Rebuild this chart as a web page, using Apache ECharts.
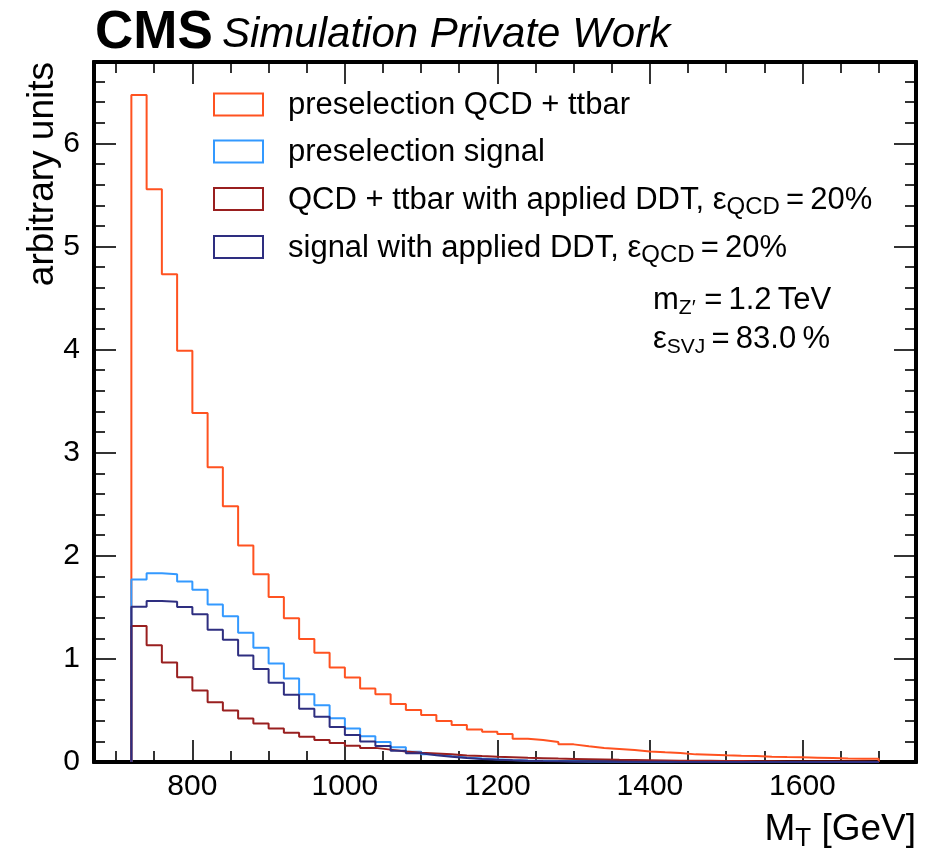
<!DOCTYPE html>
<html>
<head>
<meta charset="utf-8">
<script src="https://cdn.jsdelivr.net/npm/echarts@6/dist/echarts.min.js"></script>
<style>
html, body { margin: 0; padding: 0; background: #fff; }
#chart { width: 928px; height: 853px; }
</style>
</head>
<body>
<div id="chart"></div>
<script>
// Histogram binning in M_T [GeV]
const binEdges = [720, 740, 760, 780, 800, 820, 840, 860, 880, 900, 920, 940, 960, 980,
  1000, 1020, 1040, 1060, 1080, 1100, 1120, 1140, 1160, 1180, 1200, 1220, 1240, 1260,
  1280, 1300, 1320, 1340, 1360, 1380, 1400, 1420, 1440, 1460, 1480, 1500, 1520, 1540,
  1560, 1580, 1600, 1620, 1640, 1660, 1680, 1700];

// preselection QCD + ttbar
const preselBkg = [6.47, 5.555, 4.73, 3.99, 3.385, 2.86, 2.48, 2.10, 1.82, 1.60, 1.395, 1.192,
  1.06, 0.916, 0.82, 0.713, 0.658, 0.563, 0.505, 0.455, 0.397, 0.358, 0.316, 0.294, 0.271,
  0.226, 0.213, 0.194, 0.171, 0.152, 0.136, 0.126, 0.116, 0.103, 0.094, 0.087, 0.074, 0.071,
  0.065, 0.061, 0.058, 0.052, 0.048, 0.045, 0.042, 0.039, 0.035, 0.032, 0.032];

// preselection signal
const preselSig = [1.77, 1.83, 1.82, 1.75, 1.671, 1.527, 1.413, 1.254, 1.108, 0.955, 0.81, 0.658,
  0.55, 0.425, 0.325, 0.25, 0.195, 0.142, 0.10, 0.076, 0.058, 0.044, 0.034, 0.026, 0.02,
  0.015, 0.012, 0.009, 0.007, 0.005, 0.004, 0.003, 0.003, 0.002, 0.002, 0.002, 0.001, 0.001,
  0.001, 0.001, 0.001, 0.001, 0.001, 0.0005, 0.0005, 0.0005, 0.0005, 0.0005, 0.0005];

// QCD + ttbar after the DDT cut
const ddtBkg = [1.318, 1.132, 0.966, 0.823, 0.693, 0.579, 0.5, 0.423, 0.374, 0.326, 0.284, 0.245,
  0.213, 0.184, 0.157, 0.137, 0.12, 0.102, 0.09, 0.082, 0.074, 0.064, 0.057, 0.051, 0.046,
  0.041, 0.037, 0.033, 0.03, 0.027, 0.024, 0.021, 0.019, 0.017, 0.015, 0.013, 0.012, 0.011,
  0.01, 0.009, 0.008, 0.007, 0.006, 0.006, 0.005, 0.005, 0.004, 0.004, 0.003];

// signal after the DDT cut
const ddtSig = [1.507, 1.562, 1.555, 1.504, 1.432, 1.284, 1.185, 1.033, 0.902, 0.768, 0.652, 0.516,
  0.439, 0.339, 0.261, 0.2, 0.155, 0.11, 0.085, 0.066, 0.05, 0.038, 0.029, 0.022, 0.017,
  0.013, 0.01, 0.008, 0.006, 0.005, 0.004, 0.003, 0.002, 0.002, 0.002, 0.001, 0.001, 0.001,
  0.001, 0.001, 0.001, 0.0005, 0.0005, 0.0005, 0.0005, 0.0005, 0.0005, 0.0005, 0.0005];

// Axis ranges and ticks
const xRange = [671, 1749];
const yRange = [0, 6.79];
const xMajorTicks = [800, 1000, 1200, 1400, 1600];
const xMinorTicks = [700, 750, 850, 900, 950, 1050, 1100, 1150, 1250, 1300, 1350,
  1450, 1500, 1550, 1650, 1700];
const yMajorTicks = [0, 1, 2, 3, 4, 5, 6];
const yMinorTicks = [0.2, 0.4, 0.6, 0.8, 1.2, 1.4, 1.6, 1.8, 2.2, 2.4, 2.6, 2.8, 3.2, 3.4,
  3.6, 3.8, 4.2, 4.4, 4.6, 4.8, 5.2, 5.4, 5.6, 5.8, 6.2, 6.4, 6.6];

const FONT = '"Liberation Sans", Arial, Helvetica, sans-serif';
const colors = {
  preselBkg: '#ff5220',
  preselSig: '#3399ff',
  ddtBkg: '#991f1f',
  ddtSig: '#2e2e80'
};

// Outline of a step histogram: rises from zero at the first edge, falls to zero at the last
function stepOutline(values) {
  const pts = [[binEdges[0], 0]];
  for (let i = 0; i < values.length; i++) pts.push([binEdges[i], values[i]]);
  const last = binEdges[binEdges.length - 1];
  pts.push([last, values[values.length - 1]]);
  pts.push([last, 0]);
  return pts;
}

const plainNumber = function (v) { return String(v); };

function xAxisDef(position, ticks, len, withLabels) {
  return {
    type: 'value', position: position, min: xRange[0], max: xRange[1],
    axisLine: { show: true, onZero: false, lineStyle: { color: '#000', width: 4 } },
    axisTick: { show: true, inside: true, length: len, customValues: ticks,
      lineStyle: { color: '#000', width: 1.6 } },
    axisLabel: withLabels
      ? { show: true, customValues: ticks, formatter: plainNumber, fontSize: 30,
          fontFamily: FONT, color: '#000', margin: 10 }
      : { show: false },
    splitLine: { show: false }
  };
}
function yAxisDef(position, ticks, len, withLabels) {
  return {
    type: 'value', position: position, min: yRange[0], max: yRange[1],
    axisLine: { show: true, onZero: false, lineStyle: { color: '#000', width: 4 } },
    axisTick: { show: true, inside: true, length: len, customValues: ticks,
      lineStyle: { color: '#000', width: 1.6 } },
    axisLabel: withLabels
      ? { show: true, customValues: ticks, formatter: plainNumber, fontSize: 30,
          fontFamily: FONT, color: '#000', margin: 14 }
      : { show: false },
    splitLine: { show: false }
  };
}

function histSeries(name, values, color) {
  return {
    name: name, type: 'line', step: 'end', data: stepOutline(values),
    xAxisIndex: 0, yAxisIndex: 0, showSymbol: false, symbol: 'none',
    lineStyle: { color: color, width: 2 }, silent: true, animation: false
  };
}

const mainStyle = { fontSize: 31, fontFamily: FONT, fill: '#000' };
const legendSub = { fontSize: 24, fontFamily: FONT, fill: '#000', padding: [15, 0, 0, 0] };
const noteSub = { fontSize: 21, fontFamily: FONT, fill: '#000', padding: [16, 0, 0, 0] };

const legendRows = [
  { color: colors.preselBkg, text: '{n|preselection QCD + ttbar}' },
  { color: colors.preselSig, text: '{n|preselection signal}' },
  { color: colors.ddtBkg, text: '{n|QCD + ttbar with applied DDT, ε}{s|QCD}{n|\u2009=\u200920%}' },
  { color: colors.ddtSig, text: '{n|signal with applied DDT, ε}{s|QCD}{n|\u2009=\u200920%}' }
];
const legendTops = [93.5, 140.5, 188, 236];

const graphics = [];
legendRows.forEach(function (row, i) {
  graphics.push({
    type: 'rect', silent: true,
    shape: { x: 214, y: legendTops[i], width: 49, height: 22 },
    style: { fill: 'none', stroke: row.color, lineWidth: 2 }
  });
  graphics.push({
    type: 'text', silent: true, x: 288, y: legendTops[i] + 12,
    style: { text: row.text, rich: { n: mainStyle, s: legendSub },
      align: 'left', verticalAlign: 'middle' }
  });
});

// experiment label
graphics.push({ type: 'text', silent: true, x: 95, y: 33,
  style: { text: 'CMS', font: 'bold 53px ' + FONT, fill: '#000', align: 'left', verticalAlign: 'middle' } });
graphics.push({ type: 'text', silent: true, x: 222, y: 35,
  style: { text: 'Simulation Private Work', font: 'italic 42px ' + FONT, fill: '#000',
    align: 'left', verticalAlign: 'middle' } });

// model parameters
graphics.push({ type: 'text', silent: true, x: 653, y: 300,
  style: { text: '{n|m}{s|Z′}{n| =\u20091.2\u2009TeV}', rich: { n: mainStyle, s: noteSub },
    align: 'left', verticalAlign: 'middle' } });
graphics.push({ type: 'text', silent: true, x: 653, y: 339,
  style: { text: '{n|ε}{s|SVJ}{n|\u2009=\u200983.0\u2009%}', rich: { n: mainStyle, s: noteSub },
    align: 'left', verticalAlign: 'middle' } });

// axis titles
graphics.push({ type: 'text', silent: true, x: 916, y: 830,
  style: { text: '{n|M}{s|T}{n| [GeV]}',
    rich: { n: { fontSize: 37, fontFamily: FONT, fill: '#000' },
            s: { fontSize: 26, fontFamily: FONT, fill: '#000', padding: [17, 0, 0, 0] } },
    align: 'right', verticalAlign: 'middle' } });
graphics.push({ type: 'text', silent: true, x: 43, y: 62, rotation: Math.PI / 2,
  style: { text: 'arbitrary units', font: '37px ' + FONT, fill: '#000',
    align: 'right', verticalAlign: 'middle' } });

const chart = echarts.init(document.getElementById('chart'), null, { renderer: 'canvas' });
chart.setOption({
  animation: false,
  backgroundColor: '#fff',
  grid: { left: 94, right: 12, top: 62, bottom: 91, containLabel: false },
  xAxis: [
    xAxisDef('bottom', xMajorTicks, 22, true),
    xAxisDef('bottom', xMinorTicks, 11, false),
    xAxisDef('top', xMajorTicks, 22, false),
    xAxisDef('top', xMinorTicks, 11, false)
  ],
  yAxis: [
    yAxisDef('left', yMajorTicks, 22, true),
    yAxisDef('left', yMinorTicks, 11, false),
    yAxisDef('right', yMajorTicks, 22, false),
    yAxisDef('right', yMinorTicks, 11, false)
  ],
  series: [
    histSeries('preselection QCD + ttbar', preselBkg, colors.preselBkg),
    histSeries('preselection signal', preselSig, colors.preselSig),
    histSeries('QCD + ttbar with applied DDT', ddtBkg, colors.ddtBkg),
    histSeries('signal with applied DDT', ddtSig, colors.ddtSig)
  ],
  graphic: graphics
});
</script>
</body>
</html>
